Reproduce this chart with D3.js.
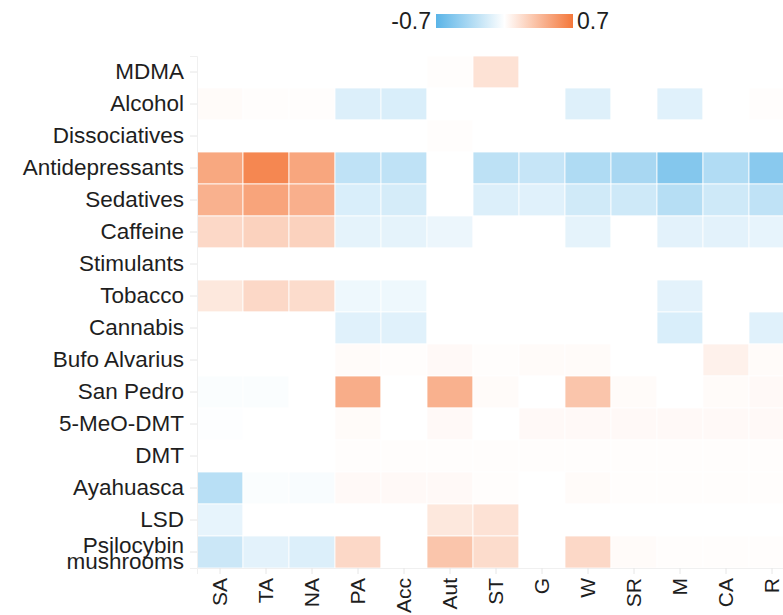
<!DOCTYPE html>
<html>
<head>
<meta charset="utf-8">
<script src="https://cdn.jsdelivr.net/npm/d3@7"></script>
<style>
  body { margin: 0; background: #fff; }
  svg { display: block; font-family: "Liberation Sans", Arial, sans-serif; }
</style>
</head>
<body>
<div id="chart"></div>
<script>
let width = 783,
    height = 615

let rows = ["MDMA", "Alcohol", "Dissociatives", "Antidepressants", "Sedatives", "Caffeine",
  "Stimulants", "Tobacco", "Cannabis", "Bufo Alvarius", "San Pedro", "5-MeO-DMT", "DMT",
  "Ayahuasca", "LSD", "Psilocybin mushrooms"]
let cols = ["SA", "TA", "NA", "PA", "Acc", "Aut", "ST", "G", "W", "SR", "M", "CA", "R"]

// one array per row, in column order
let mdma          = [0, 0, 0, 0, 0, 0.01, 0.15, 0, 0, 0, 0, 0, 0]
let alcohol       = [0.02, 0.01, 0.01, -0.15, -0.16, 0, 0, 0, -0.14, 0, -0.13, 0, 0.01]
let dissociatives = [0, 0, 0, 0, 0, 0.01, 0, 0, 0, 0, 0, 0, 0]
let antidep       = [0.45, 0.62, 0.46, -0.27, -0.27, 0, -0.28, -0.24, -0.34, -0.37, -0.52, -0.33, -0.5]
let sedatives     = [0.4, 0.47, 0.41, -0.16, -0.18, 0, -0.15, -0.13, -0.2, -0.21, -0.31, -0.21, -0.27]
let caffeine      = [0.2, 0.23, 0.23, -0.11, -0.11, -0.08, 0, 0, -0.11, 0, -0.12, -0.12, -0.1]
let stimulants    = [0, 0, 0, 0, 0, 0, 0, 0, 0, 0, 0, 0, 0]
let tobacco       = [0.12, 0.2, 0.18, -0.07, -0.07, 0, 0, 0, 0, 0, -0.12, 0, 0]
let cannabis      = [0, 0, 0, -0.13, -0.13, 0, 0, 0, 0, 0, -0.16, 0, -0.13]
let bufo          = [0, 0, 0, 0.02, 0.01, 0.03, 0.01, 0.02, 0.02, 0, 0, 0.07, 0.02]
let sanPedro      = [-0.02, -0.02, 0, 0.42, 0, 0.4, 0.02, 0, 0.3, 0.02, 0, 0.02, 0.03]
let fiveMeo       = [-0.01, 0, 0, 0.02, 0, 0.03, 0, 0.03, 0.03, 0.03, 0.03, 0.03, 0.03]
let dmt           = [0, 0, 0, 0.01, 0.01, 0.01, 0.01, 0.01, 0.01, 0.01, 0.01, 0.01, 0.01]
let ayahuasca     = [-0.3, -0.02, -0.03, 0.03, 0.03, 0.03, 0.01, 0, 0.02, 0.01, 0.01, 0.01, 0.01]
let lsd           = [-0.1, 0, 0, 0, 0, 0.12, 0.15, 0, 0, 0, 0, 0, 0]
let psilocybin    = [-0.22, -0.12, -0.15, 0.2, 0, 0.3, 0.18, 0, 0.2, 0.02, 0.01, 0.01, 0.01]

let values = [mdma, alcohol, dissociatives, antidep, sedatives, caffeine, stimulants, tobacco,
  cannabis, bufo, sanPedro, fiveMeo, dmt, ayahuasca, lsd, psilocybin]

let cells = []
values.forEach(function(r, i) {
  r.forEach(function(v, j) {
    cells.push({ row: rows[i], col: cols[j], value: v })
  })
})

let svg = d3.select("#chart").append("svg")
    .attr("width", width)
    .attr("height", height)

let color = d3.scaleLinear()
    .domain([-0.7, 0, 0.7])
    .range(["#5ab4e7", "#ffffff", "#f4773a"])
    .clamp(true)

let x = d3.scaleBand()
    .domain(cols)
    .range([197, 197 + 46 * cols.length])

let y = d3.scaleBand()
    .domain(rows)
    .range([56, 568])

svg.append("g")
  .selectAll("rect")
  .data(cells)
  .enter().append("rect")
    .attr("x", function(d) { return x(d.col) })
    .attr("y", function(d) { return y(d.row) })
    .attr("width", x.bandwidth())
    .attr("height", y.bandwidth())
    .attr("fill", function(d) { return color(d.value) })
    .attr("stroke", "#fff")
    .attr("stroke-width", 0.8)

// left axis
let yAxis = svg.append("g")
    .attr("transform", "translate(197,0)")
    .call(d3.axisLeft(y).tickSize(7).tickPadding(6))
yAxis.select(".domain").attr("stroke", "#f0f0f0")
yAxis.selectAll(".tick line").attr("stroke", "#e6e6e6")
yAxis.selectAll(".tick text")
    .attr("font-size", 22.5)
    .attr("fill", "#1e1e1e")
    .each(function(d) {
      if (d === "Psilocybin mushrooms") {
        let t = d3.select(this).text(null).attr("dy", 0)
        t.append("tspan").attr("x", -13).attr("y", 1).text("Psilocybin")
        t.append("tspan").attr("x", -13).attr("y", 17).text("mushrooms")
      }
    })

// bottom axis
let xAxis = svg.append("g")
    .attr("transform", "translate(0,568)")
    .call(d3.axisBottom(x).tickSize(6).tickPadding(6))
xAxis.select(".domain").attr("stroke", "#f0f0f0")
xAxis.selectAll(".tick line").attr("stroke", "#e6e6e6")
xAxis.selectAll(".tick text")
    .attr("font-size", 21)
    .attr("fill", "#1e1e1e")
    .attr("transform", "rotate(-90)")
    .attr("text-anchor", "end")
    .attr("x", -10)
    .attr("y", 0)
    .attr("dy", "0.35em")

// legend
let defs = svg.append("defs")
let grad = defs.append("linearGradient").attr("id", "legend-grad")
d3.range(0, 1.01, 0.1).forEach(function(t) {
  grad.append("stop")
    .attr("offset", (t * 100) + "%")
    .attr("stop-color", color(-0.7 + 1.4 * t))
})
let lx = d3.scaleLinear().domain([-0.7, 0.7]).range([436, 573])
svg.append("rect")
    .attr("x", lx(-0.7))
    .attr("y", 14)
    .attr("width", lx(0.7) - lx(-0.7))
    .attr("height", 14)
    .attr("fill", "url(#legend-grad)")
svg.append("text")
    .attr("x", lx(-0.7) - 5)
    .attr("y", 29)
    .attr("text-anchor", "end")
    .attr("font-size", 23)
    .attr("fill", "#1e1e1e")
    .text("-0.7")
svg.append("text")
    .attr("x", lx(0.7) + 4)
    .attr("y", 29)
    .attr("font-size", 23)
    .attr("fill", "#1e1e1e")
    .text("0.7")
</script>
</body>
</html>
